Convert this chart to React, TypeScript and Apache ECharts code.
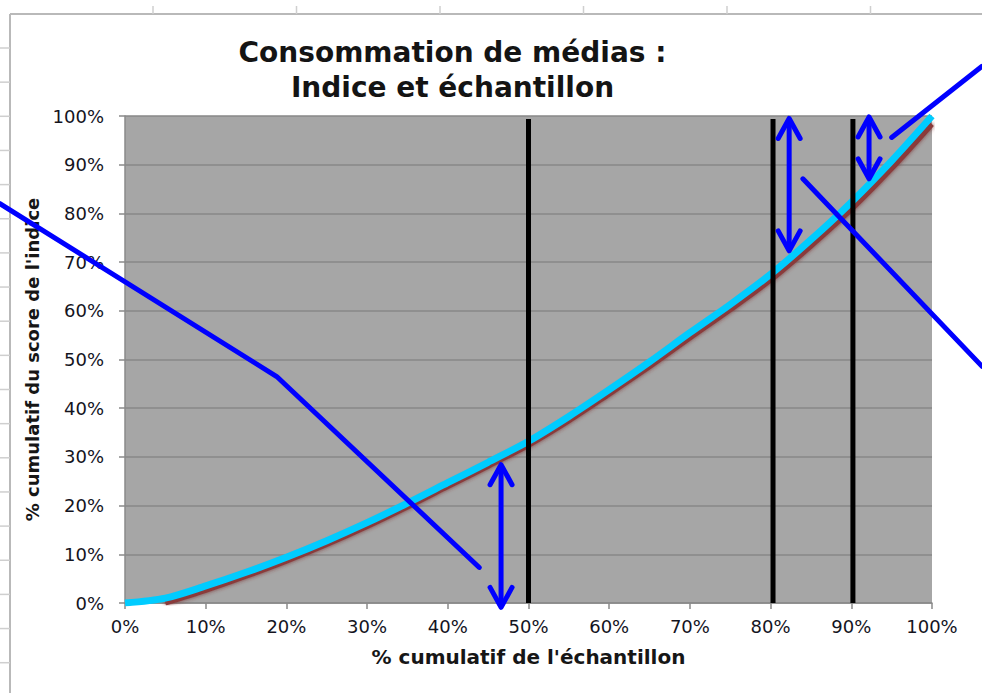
import React, { useEffect, useRef } from "react";
import * as echarts from "echarts";

// cumulative % of the sample (x) and cumulative % of the index score (y)
const sampleCum = [0, 5, 10, 15, 20, 25, 30, 35, 40, 45, 50, 55, 60, 65, 70, 75, 80, 85, 90, 95, 100];
const indexCum = [0, 1.0, 3.5, 6.3, 9.4, 12.8, 16.5, 20.5, 24.7, 28.9, 33.2, 38.3, 43.8, 49.5, 55.5, 61.3, 67.5, 74.6, 82.3, 90.8, 100];
// dark red curve visible under the cyan one
const shadowCum = [null, 0, 2.6, 5.5, 8.6, 12.0, 15.7, 19.7, 23.9, 28.1, 32.4, 37.4, 42.9, 48.5, 54.4, 60.2, 66.3, 73.3, 80.8, 89.2, 98.3];

// vertical black threshold lines
const thresholds = [50, 80.3, 90.2];
const thresholdTop = 99.4;

// blue annotations (data coordinates, some reaching outside the plot)
const pointerPath = [[-15.5, 82.0], [18.8, 46.5], [43.9, 7.3]];
const arrowX = [46.6, 82.3, 92.2];
const arrowTop = [28.4, 99.5, 99.8];
const arrowBottom = [-0.9, 72.3, 87.1];
const strokes = [
  [[95.0, 95.6], [106.2, 110.2]],
  [[84.0, 87.1], [106.2, 48.6]],
];

const titleText = "Consommation de médias :\nIndice et échantillon";
const xName = "% cumulatif de l'échantillon";
const yName = "% cumulatif du score de l'indice";

const FONT = "DejaVu Sans";

export default function App() {
  const ref = useRef<HTMLDivElement>(null);
  useEffect(() => {
    if (!ref.current) return;
    const chart = echarts.init(ref.current, null, { renderer: "svg" });
    const axisCommon = {
      type: "value",
      min: 0,
      max: 100,
      interval: 10,
      axisLine: { show: true, lineStyle: { color: "#8a8a8a", width: 1.5 } },
      axisTick: { show: true, length: 6, lineStyle: { color: "#8a8a8a", width: 1.5 } },
      axisLabel: {
        formatter: "{value}%",
        fontSize: 18,
        fontFamily: FONT,
        color: "#14141e",
      },
      nameLocation: "middle",
      nameTextStyle: { fontFamily: FONT, fontWeight: "bold", color: "#161616" },
    };
    const option: any = {
      animation: false,
      backgroundColor: "#ffffff",
      grid: {
        left: 125,
        right: 50,
        top: 116,
        bottom: 90,
        show: true,
        backgroundColor: "#a6a6a6",
        borderWidth: 0,
      },
      xAxis: {
        ...axisCommon,
        name: xName,
        nameGap: 44,
        nameTextStyle: { ...axisCommon.nameTextStyle, fontSize: 20 },
        axisLabel: { ...axisCommon.axisLabel, margin: 14 },
        splitLine: { show: false },
      },
      yAxis: {
        ...axisCommon,
        name: yName,
        nameGap: 84,
        nameRotate: 90,
        nameTextStyle: { ...axisCommon.nameTextStyle, fontSize: 18 },
        axisLabel: { ...axisCommon.axisLabel, margin: 21 },
        splitLine: { show: true, lineStyle: { color: "#878787", width: 1.5 } },
      },
      series: [
        {
          type: "line",
          name: "ombre",
          data: sampleCum.map((x, i) => [x, shadowCum[i]]),
          smooth: 0.3,
          symbol: "none",
          connectNulls: false,
          lineStyle: {
            color: "#8a3a3a",
            width: 5,
            shadowColor: "rgba(120,40,40,0.9)",
            shadowBlur: 4,
          },
          z: 2,
        },
        {
          type: "line",
          name: "indice",
          data: sampleCum.map((x, i) => [x, indexCum[i]]),
          smooth: 0.3,
          symbol: "none",
          lineStyle: { color: "#00ccff", width: 7 },
          z: 3,
        },
        ...thresholds.map((t) => ({
          type: "line",
          data: [
            [t, 0],
            [t, thresholdTop],
          ],
          symbol: "none",
          lineStyle: { color: "#000000", width: 5, cap: "butt" },
          z: 4,
        })),
      ],
    };
    chart.setOption(option);

    const px = (p: number[]) => chart.convertToPixel({ gridIndex: 0 }, p) as number[];
    const blue = {
      stroke: "#0000ff",
      lineWidth: 5,
      lineCap: "round",
      lineJoin: "round",
      fill: null,
    };
    const frame = { stroke: "#b9b9b9", lineWidth: 2 };
    const graphic: any[] = [];
    // spreadsheet frame behind the chart
    graphic.push({ type: "line", shape: { x1: 10, y1: 14, x2: 982, y2: 14 }, style: frame, z: 1 });
    graphic.push({ type: "line", shape: { x1: 10, y1: 14, x2: 10, y2: 693 }, style: frame, z: 1 });
    for (let k = 0; k < 6; k++) {
      const x = 153 + 143.5 * k;
      graphic.push({ type: "line", shape: { x1: x, y1: 6, x2: x, y2: 14 }, style: { stroke: "#cfcfcf", lineWidth: 1.5 }, z: 1 });
    }
    for (let k = 0; k < 20; k++) {
      const y = 48 + 34.15 * k;
      graphic.push({ type: "line", shape: { x1: 0, y1: y, x2: 10, y2: y }, style: { stroke: "#cfcfcf", lineWidth: 1.5 }, z: 1 });
    }
    graphic.push({
      type: "text",
      x: 452.5,
      y: 35,
      style: {
        text: titleText,
        font: `bold 28px "${FONT}"`,
        fill: "#141414",
        align: "center",
        textAlign: "center",
        verticalAlign: "top",
        textVerticalAlign: "top",
        lineHeight: 35,
      },
      z: 10,
    });
    graphic.push({
      type: "polyline",
      shape: { points: pointerPath.map(px) },
      style: blue,
      z: 20,
    });
    strokes.forEach((s) => {
      graphic.push({ type: "polyline", shape: { points: s.map(px) }, style: blue, z: 20 });
    });
    arrowX.forEach((ax, i) => {
      const [tx, ty] = px([ax, arrowTop[i]]);
      const [bx, by] = px([ax, arrowBottom[i]]);
      graphic.push({ type: "line", shape: { x1: tx, y1: ty + 2, x2: bx, y2: by - 2 }, style: blue, z: 20 });
      graphic.push({
        type: "polyline",
        shape: { points: [[tx - 11, ty + 20], [tx, ty], [tx + 11, ty + 20]] },
        style: blue,
        z: 20,
      });
      graphic.push({
        type: "polyline",
        shape: { points: [[bx - 11, by - 20], [bx, by], [bx + 11, by - 20]] },
        style: blue,
        z: 20,
      });
    });
    chart.setOption({ graphic });

    return () => chart.dispose();
  }, []);

  return (
    <div
      ref={ref}
      style={{ position: "fixed", left: 0, top: 0, width: 982, height: 693, background: "#fff" }}
    />
  );
}
